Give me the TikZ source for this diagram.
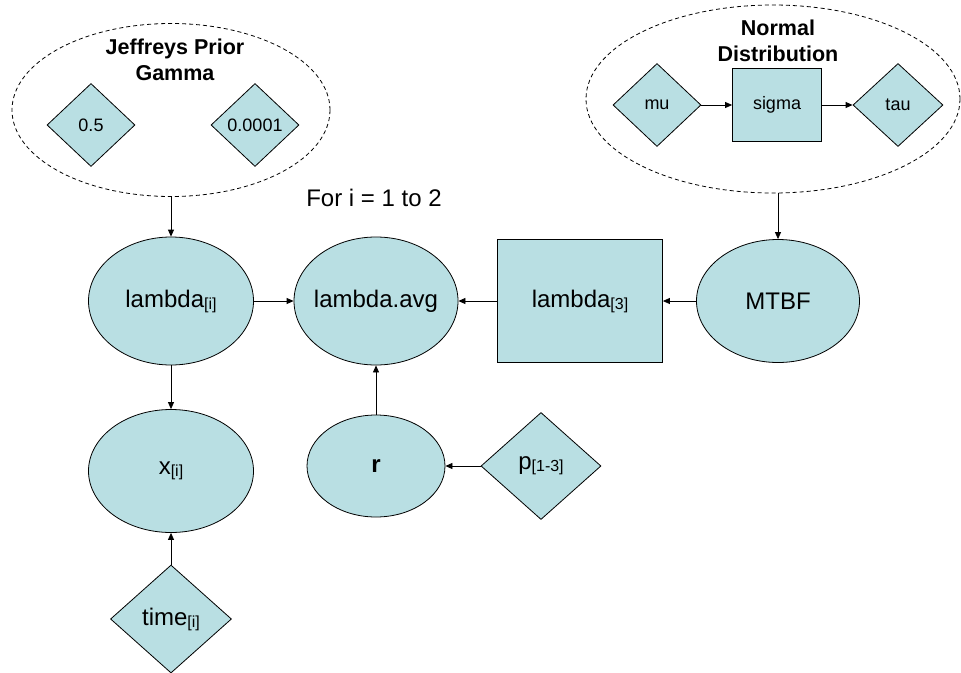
\documentclass[tikz,border=0pt]{standalone}
\usepackage{fontspec}
\setmainfont{Liberation Sans}
\usepackage{tikz}
\usepackage{xcolor}
\usetikzlibrary{shapes.geometric,arrows.meta}
\definecolor{nodeblue}{RGB}{185,223,227}
\newcommand{\lsub}[1]{\raisebox{-2pt}{\fontsize{16}{16}\selectfont #1}}

\begin{document}
\begin{tikzpicture}[x=1pt,y=-1pt,line width=0.8pt,
  oval/.style={ellipse,draw,fill=nodeblue,inner sep=0pt,inner xsep=-8pt,font=\fontsize{24}{28}\selectfont},
  box/.style={rectangle,draw,fill=nodeblue,inner sep=0pt,font=\fontsize{24}{28}\selectfont},
  kite/.style={diamond,draw,fill=nodeblue,inner sep=0pt,font=\fontsize{24}{28}\selectfont},
  smalltext/.style={font=\fontsize{18}{20}\selectfont},
  group/.style={ellipse,draw,dash pattern=on 4pt off 3pt,inner sep=0pt},
  title/.style={align=center,font=\bfseries\fontsize{21.5}{26}\selectfont},
  link/.style={-{Triangle[length=7pt,width=6pt]}}]
\useasboundingbox (0,0) rectangle (961,672);
\node[group,minimum width=318pt,minimum height=173pt] (jeff) at (171,110) {};
\node[title] (jefft) at (175,60) {Jeffreys Prior\\Gamma};
\node[kite,smalltext,minimum width=88pt,minimum height=83pt] (half) at (91,125) {0.5};
\node[kite,smalltext,minimum width=88pt,minimum height=83pt] (tiny) at (255,125) {0.0001};
\node[group,minimum width=374pt,minimum height=188pt] (norm) at (773,99) {};
\node[title] (normt) at (778,41) {Normal\\Distribution};
\node[kite,smalltext,minimum width=88pt,minimum height=83pt] (mu) at (657,105) {mu};
\node[box,smalltext,minimum width=89pt,minimum height=73pt] (sigma) at (777,105) {sigma};
\node[kite,smalltext,minimum width=90pt,minimum height=83pt] (tau) at (898,105) {tau};
\node[font=\fontsize{24}{28}\selectfont] (loop) at (374,198) {For i = 1 to 2};
\node[oval,minimum width=165pt,minimum height=128pt] (lam) at (171,301) {lambda\lsub{[i]}};
\node[oval,minimum width=164pt,minimum height=128pt] (avg) at (376,301) {lambda.avg};
\node[box,minimum width=165pt,minimum height=123pt] (lam3) at (580,301) {lambda\lsub{[3]}};
\node[oval,minimum width=163pt,minimum height=123pt] (mtbf) at (778,301) {MTBF};
\node[oval,minimum width=165pt,minimum height=123pt] (x) at (171,471) {x\lsub{[i]}};
\node[oval,minimum width=138pt,minimum height=102pt] (r) at (376,466) {\textbf{r}};
\node[kite,minimum width=120pt,minimum height=107pt] (p) at (541,466) {p\lsub{[1-3]}};
\node[kite,minimum width=121pt,minimum height=108pt] (time) at (171,619) {time\lsub{[i]}};
\draw[link] (mu) -- (sigma);
\draw[link] (sigma) -- (tau);
\draw[link] (jeff) -- (lam);
\draw[link] (norm.south -| mtbf.north) -- (mtbf.north);
\draw[link] (lam) -- (avg);
\draw[link] (lam3) -- (avg);
\draw[link] (mtbf) -- (lam3);
\draw[link] (lam) -- (x);
\draw[link] (time) -- (x);
\draw[link] (r) -- (avg);
\draw[link] (p) -- (r);
\end{tikzpicture}
\end{document}
